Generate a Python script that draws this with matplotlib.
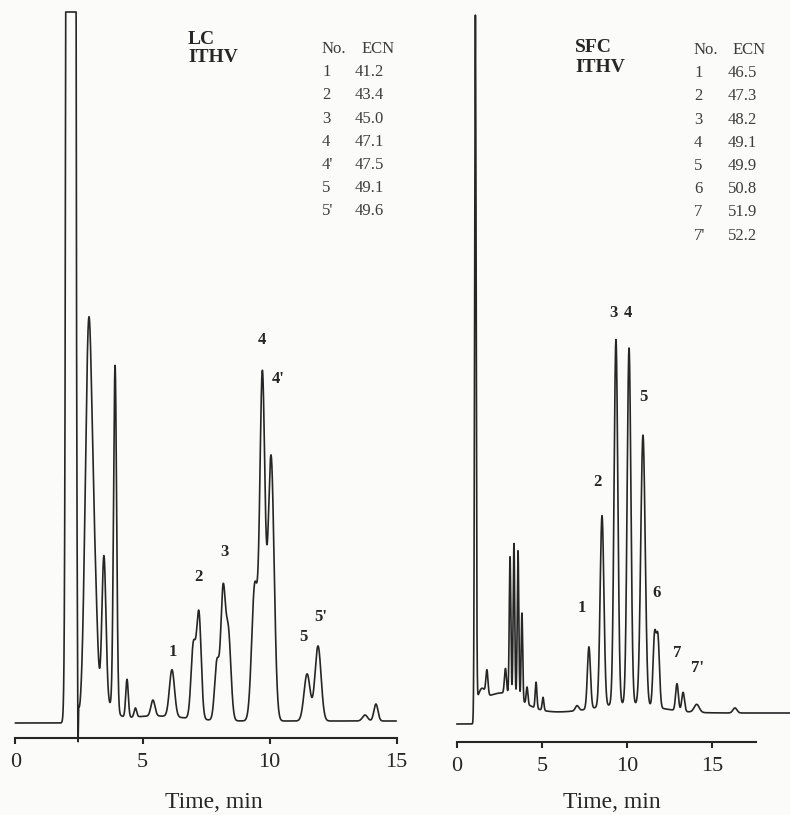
import numpy as np
import matplotlib
matplotlib.use("Agg")
import matplotlib.pyplot as plt

# ---------------------------------------------------------------------------
# Chromatogram peak tables: retention time (min), height (detector units), width (sigma, min)
# ---------------------------------------------------------------------------
lc_times = [2.18, 2.46, 2.89, 3.15, 3.48, 3.92, 4.39, 4.72, 5.41,
            6.16, 7.00, 7.22, 7.93, 8.17, 8.38, 9.42, 9.72, 10.06,
            11.48, 11.91, 13.76, 14.19]
lc_heights = [20000, -65, 400, 80, 150, 345, 38, 9, 16,
              47, 72, 105, 58, 125, 87, 135, 340, 265,
              47, 75, 6, 17]
lc_widths = [0.08, 0.012, 0.14, 0.10, 0.08, 0.06, 0.05, 0.05, 0.08,
             0.10, 0.09, 0.09, 0.09, 0.09, 0.10, 0.12, 0.10, 0.12,
             0.12, 0.12, 0.10, 0.08]
# slow baseline drift after the solvent front
lc_drift_times = [3.60, 5.50]
lc_drift_heights = [15, 5]
lc_drift_widths = [0.30, 1.2]
lc_offset = 2          # baseline shift after the solvent front
lc_injection = 2.0
lc_saturation = 711    # recorder full scale
lc_range = (0.0, 14.98)

sfc_times = [1.08, 1.76, 2.85, 3.12, 3.35, 3.59, 3.82, 4.12, 4.65, 5.06,
             7.06, 7.76, 8.53, 9.35, 10.12, 10.94, 11.62, 11.82,
             12.94, 13.30, 14.10, 16.35]
sfc_heights = [687, 24, 25, 138, 153, 148, 88, 17, 26, 13,
               5, 62, 191, 365, 356, 270, 70, 68,
               27, 19, 8, 5]
sfc_widths = [0.045, 0.06, 0.06, 0.045, 0.045, 0.045, 0.045, 0.05, 0.05, 0.05,
              0.10, 0.09, 0.11, 0.11, 0.11, 0.13, 0.09, 0.09,
              0.08, 0.08, 0.15, 0.12]
sfc_drift_times = [1.45, 2.60, 10.00]
sfc_drift_heights = [12, 20, 9]
sfc_drift_widths = [0.20, 1.2, 1.8]
sfc_offset = 11
sfc_injection = 1.08
sfc_range = (0.0, 19.6)

# Peak identification tables (peak No., equivalent carbon number)
lc_ids = ["1", "2", "3", "4", "4'", "5", "5'"]
lc_ecn = ["41.2", "43.4", "45.0", "47.1", "47.5", "49.1", "49.6"]
sfc_ids = ["1", "2", "3", "4", "5", "6", "7", "7'"]
sfc_ecn = ["46.5", "47.3", "48.2", "49.1", "49.9", "50.8", "51.9", "52.2"]

tick_values = [0, 5, 10, 15]
x_label = "Time, min"

# ---------------------------------------------------------------------------
# Layout (figure pixels, origin top-left)
# ---------------------------------------------------------------------------
W, H = 790, 815
SERIF = ["Liberation Serif", "DejaVu Serif"]
INK = "#262626"
TABLE_INK = "#3c3c3c"

# peak label anchors (time, signal) for each panel
lc_label_pos = {"1": (6.20, 71), "2": (7.22, 146), "3": (8.21, 171), "4": (9.70, 383),
                "4'": (10.33, 344), "5": (11.32, 86), "5'": (12.03, 106)}
sfc_label_pos = {"1": (7.35, 116), "2": (8.29, 242), "3": (9.18, 411), "4": (10.06, 411),
                 "5": (10.94, 327), "6": (11.76, 131), "7": (12.94, 71), "7'": (14.12, 56)}


def gauss_sum(t, times, heights, widths):
    y = np.zeros_like(t)
    for t0, h, s in zip(times, heights, widths):
        y += h * np.exp(-0.5 * ((t - t0) / s) ** 2)
    return y


def trace(peaks, drift, offset, step_at, t_range, n=12000):
    t = np.linspace(t_range[0], t_range[1], n)
    after = t >= step_at
    y = gauss_sum(t, *peaks)
    y += np.where(after, offset + gauss_sum(t, *drift), 0.0)
    return t, y


fig = plt.figure(figsize=(W / 100, H / 100), dpi=100)
fig.patch.set_facecolor("#fbfbf9")


def make_axes(px_left, px_right, t0_px, px_per_min, base_px):
    ax = fig.add_axes([px_left / W, 0, (px_right - px_left) / W, 1])
    ax.set_xlim((px_left - t0_px) / px_per_min, (px_right - t0_px) / px_per_min)
    ax.set_ylim(base_px - H, base_px)
    ax.patch.set_alpha(0)
    for side in ("left", "right", "top"):
        ax.spines[side].set_visible(False)
    ax.yaxis.set_visible(False)
    return ax


def style_time_axis(ax, axis_s, bound_hi, label_t, label_s):
    sp = ax.spines["bottom"]
    sp.set_position(("data", axis_s))
    sp.set_bounds(0, bound_hi)
    sp.set_linewidth(1.5)
    sp.set_color(INK)
    ax.set_xticks(tick_values)
    ax.set_xticklabels([str(v) for v in tick_values])
    ax.tick_params(axis="x", direction="out", length=4, width=1.5, color=INK,
                   pad=7, labelsize=16, labelcolor=INK)
    for lab in ax.get_xticklabels():
        lab.set_fontfamily(SERIF)
    ax.text(label_t, label_s, x_label, ha="center", va="center", fontsize=17,
            family=SERIF, color=INK)


# ---- LC panel ----
ax1 = make_axes(0, 430, 15.5, 25.4, 723)
t, y = trace((lc_times, lc_heights, lc_widths),
             (lc_drift_times, lc_drift_heights, lc_drift_widths),
             lc_offset, lc_injection, lc_range)
y = np.minimum(y, lc_saturation)
ax1.plot(t, y, color=INK, lw=1.2, solid_joinstyle="round")
style_time_axis(ax1, -15, 15, 7.81, -80)
for lab, (lt, ls) in lc_label_pos.items():
    ax1.text(lt, ls, lab, ha="center", va="center", fontsize=12, family=SERIF,
             fontweight="bold", color=INK)

# ---- SFC panel ----
ax2 = make_axes(440, 790, 457, 17.0, 724)
t, y = trace((sfc_times, sfc_heights, sfc_widths),
             (sfc_drift_times, sfc_drift_heights, sfc_drift_widths),
             sfc_offset, sfc_injection, sfc_range)
ax2.plot(t, y, color=INK, lw=1.2, solid_joinstyle="round")
style_time_axis(ax2, -18, 17.6, 9.12, -79)
for lab, (lt, ls) in sfc_label_pos.items():
    ax2.text(lt, ls, lab, ha="center", va="center", fontsize=12, family=SERIF,
             fontweight="bold", color=INK)


def ftext(x, y, s, **kw):
    fig.text(x / W, 1 - y / H, s, family=SERIF, **kw)


# Panel titles
ftext(188, 39, "LC", fontsize=14, fontweight="bold", color=INK, va="center")
ftext(188, 58, "ITHV", fontsize=14, fontweight="bold", color=INK, va="center")
ftext(575, 47, "SFC", fontsize=14, fontweight="bold", color=INK, va="center")
ftext(575, 68, "ITHV", fontsize=14, fontweight="bold", color=INK, va="center")


def id_table(x_no, x_ecn_head, x_val, y_head, ids, ecns, dy=23.2):
    ftext(x_no, y_head, "No.", fontsize=12, color=TABLE_INK, va="center")
    ftext(x_ecn_head, y_head, "ECN", fontsize=12, color=TABLE_INK, va="center")
    for i, (n, e) in enumerate(zip(ids, ecns)):
        yy = y_head + dy * (i + 1)
        ftext(x_no, yy, n, fontsize=12, color=TABLE_INK, va="center")
        ftext(x_val, yy, e, fontsize=12, color=TABLE_INK, va="center")


id_table(322, 362, 355, 49, lc_ids, lc_ecn)
id_table(694, 733, 728, 50, sfc_ids, sfc_ecn)

fig.savefig("out.png", dpi=100, facecolor=fig.get_facecolor())
